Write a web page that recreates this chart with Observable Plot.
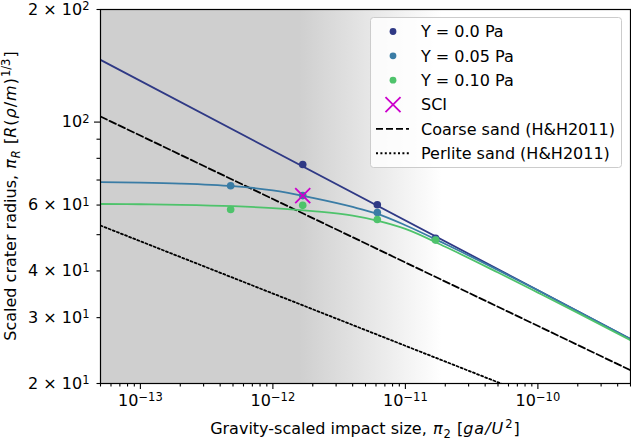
<!DOCTYPE html>
<html><head><meta charset="utf-8">
<script src="https://cdn.jsdelivr.net/npm/d3@7"></script>
<script src="https://cdn.jsdelivr.net/npm/@observablehq/plot@0.6"></script>
<style>
html,body{margin:0;padding:0;background:#fff;}
#chart{position:relative;width:631px;height:440px;}
</style></head><body><div id="chart"></div>
<script>
// ---------- data ----------
const xDomain = [5e-14, 5e-10];
const yDomain = [20, 200];
const seriesNames = ["Y = 0.0 Pa", "Y = 0.05 Pa", "Y = 0.10 Pa"];
const seriesColors = ["#2f3985", "#3a7ca5", "#4ec36b"];
const sciName = "SCI";
const sciColor = "#cc00cc";
const refNames = ["Coarse sand (H&H2011)", "Perlite sand (H&H2011)"];

// measured points
const y0PointsX = [1.68e-12, 6.14e-12, 1.69e-11];
const y0PointsY = [77.0, 60.1, 48.9];
const y005PointsX = [4.8e-13, 1.68e-12, 6.14e-12, 1.69e-11];
const y005PointsY = [67.6, 63.6, 57.3, 48.5];
const y010PointsX = [4.8e-13, 1.68e-12, 6.14e-12, 1.69e-11];
const y010PointsY = [58.4, 59.9, 54.9, 48.4];
const sciX = [1.68e-12];
const sciY = [63.6];

// model curves
const y0CurveX = [5e-14, 5e-10];
const y0CurveY = [146.7, 26.3];
const curveX = [5e-14, 1e-13, 2e-13, 5e-13, 1e-12, 2e-12, 4e-12, 6e-12, 1e-11, 2e-11, 5e-11, 1e-10, 2e-10, 5e-10];
const y005CurveY = [69.1, 68.9, 68.5, 67.4, 65.7, 62.7, 59.3, 57.0, 53.0, 47.2, 40.2, 35.5, 31.2, 26.3];
const y010CurveY = [60.4, 60.3, 60.1, 59.6, 58.9, 57.8, 56.2, 54.6, 51.8, 46.4, 39.6, 35.0, 30.9, 26.1];
const coarseX = [5e-14, 5e-10];
const coarseY = [103.5, 21.7];
const perliteX = [5e-14, 5e-10];
const perliteY = [52.9, 14.6];

// shaded region (grey fading to white)
const bgStart = 1.6e-12;
const bgEnd = 1.9e-11;

// ticks
const xTickValues = [1e-13, 1e-12, 1e-11, 1e-10];
const xTickLabels = ["10^\u221213", "10^\u221212", "10^\u221211", "10^\u221210"];
const yTickValues = [20, 30, 40, 60, 100, 200];
const yTickLabels = ["2 \u00d7 10^1", "3 \u00d7 10^1", "4 \u00d7 10^1", "6 \u00d7 10^1", "10^2", "2 \u00d7 10^2"];

// ---------- chart ----------
const W = 631, H = 440, mL = 100, mR = 1, mT = 9, mB = 57;
const isPow10 = v => Math.abs(Math.log10(v) - Math.round(Math.log10(v))) < 1e-9;
const xAll = d3.scaleLog().domain(xDomain).ticks();
const xMinor = xAll.filter(v => !isPow10(v));
const xMajor = xAll.filter(v => isPow10(v));
const yAll = d3.scaleLog().domain(yDomain).ticks();
const yMinor = yAll.filter(v => !isPow10(v));
const yMajor = yAll.filter(v => isPow10(v));

const pts = (xs, ys) => xs.map((x, i) => ({x, y: ys[i]}));
const blank = () => "";

const plot = Plot.plot({
  width: W, height: H,
  marginLeft: mL, marginRight: mR, marginTop: mT, marginBottom: mB,
  x: {type: "log", domain: xDomain},
  y: {type: "log", domain: yDomain},
  style: {fontFamily: "DejaVu Sans", fontSize: "16px", color: "black", background: "white", overflow: "visible"},
  marks: [
    Plot.rect([0], {x1: () => xDomain[0], x2: () => xDomain[1], y1: () => yDomain[0], y2: () => yDomain[1], fill: "url(#bgfade)"}),
    Plot.line(pts(coarseX, coarseY), {x: "x", y: "y", stroke: "black", strokeWidth: 1.8, strokeDasharray: "7 3", clip: true}),
    Plot.line(pts(perliteX, perliteY), {x: "x", y: "y", stroke: "black", strokeWidth: 1.8, strokeDasharray: "2 2.4", clip: true}),
    Plot.line(pts(y0CurveX, y0CurveY), {x: "x", y: "y", stroke: seriesColors[0], strokeWidth: 1.8, clip: true}),
    Plot.line(pts(curveX, y005CurveY), {x: "x", y: "y", stroke: seriesColors[1], strokeWidth: 1.8, curve: "monotone-x", clip: true}),
    Plot.line(pts(curveX, y010CurveY), {x: "x", y: "y", stroke: seriesColors[2], strokeWidth: 1.8, curve: "monotone-x", clip: true}),
    Plot.dot(pts(y0PointsX, y0PointsY), {x: "x", y: "y", r: 3.8, fill: seriesColors[0]}),
    Plot.dot(pts(y005PointsX, y005PointsY), {x: "x", y: "y", r: 3.8, fill: seriesColors[1]}),
    Plot.dot(pts(y010PointsX, y010PointsY), {x: "x", y: "y", r: 3.8, fill: seriesColors[2]}),
    Plot.dot(pts(sciX, sciY), {x: "x", y: "y", r: 6.9, symbol: "times", stroke: sciColor, strokeWidth: 1.8}),
    // axes
    Plot.axisX(xMinor, {tickSize: 3.5, tickFormat: blank, label: null, strokeWidth: 1.1}),
    Plot.axisX(xMajor, {tickSize: 6, tickFormat: blank, label: null, strokeWidth: 1.1}),
    Plot.axisX(xTickValues, {tickSize: 0, tickPadding: 11, label: null,
      tickFormat: d => xTickLabels[xTickValues.indexOf(d)]}),
    Plot.axisY(yMinor, {tickSize: 3.5, tickFormat: blank, label: null, strokeWidth: 1.1}),
    Plot.axisY(yMajor, {tickSize: 6, tickFormat: blank, label: null, strokeWidth: 1.1}),
    Plot.axisY(yTickValues, {tickSize: 0, tickPadding: 11, label: null,
      tickFormat: d => yTickLabels[yTickValues.indexOf(d)]}),
    Plot.frame({stroke: "black", strokeWidth: 1.2})
  ]
});

document.getElementById("chart").appendChild(plot);
const svg = d3.select(plot);
const ns = "http://www.w3.org/2000/svg";
const xs = plot.scale("x");

// gradient defs (positions from the x scale)
const defs = svg.insert("defs", ":first-child");
const grad = defs.append("linearGradient").attr("id", "bgfade").attr("gradientUnits", "userSpaceOnUse")
  .attr("x1", xs.apply(bgStart)).attr("x2", xs.apply(bgEnd)).attr("y1", 0).attr("y2", 0);
grad.append("stop").attr("offset", 0).attr("stop-color", "#cfcfcf");
grad.append("stop").attr("offset", 1).attr("stop-color", "#ffffff");

// superscripts in tick labels
plot.querySelectorAll("text").forEach(t => {
  const s = t.textContent;
  if (!s.includes("^")) return;
  const [base, sup] = s.split("^");
  t.textContent = base;
  const ts = document.createElementNS(ns, "tspan");
  ts.setAttribute("dy", "-4.5");
  ts.setAttribute("font-size", "11.5");
  ts.textContent = sup;
  t.appendChild(ts);
});

// axis labels
const addParts = (sel, parts) => parts.forEach(p => {
  const ts = sel.append("tspan").text(p.t);
  if (p.i) ts.attr("font-style", "italic");
  if (p.fs) ts.attr("font-size", p.fs);
  if (p.dy) ts.attr("dy", p.dy);
  if (p.dx) ts.attr("dx", p.dx);
});
const xl = svg.append("text").attr("x", mL + (W - mL - mR) / 2).attr("y", 434)
  .attr("text-anchor", "middle").attr("font-size", 16).attr("fill", "black");
addParts(xl, [
  {t: "Gravity-scaled impact size, "}, {t: "\u03c0", i: 1, dx: 1}, {t: "2", fs: 11.5, dy: 4, dx: 1},
  {t: " [", dy: -4, dx: 1}, {t: "g", i: 1}, {t: "a", i: 1, dx: 1}, {t: "/", i: 1, dx: 1}, {t: "U", i: 1, dx: 1},
  {t: "2", fs: 11.5, dy: -6, dx: 2}, {t: "]", dy: 6, dx: 1}
]);
const yl = svg.append("text").attr("transform", `translate(15.5,${mT + (H - mT - mB) / 2}) rotate(-90)`)
  .attr("text-anchor", "middle").attr("font-size", 16).attr("fill", "black");
addParts(yl, [
  {t: "Scaled crater radius, "}, {t: "\u03c0", i: 1, dx: 1}, {t: "R", i: 1, fs: 11.5, dy: 4, dx: 1},
  {t: " [", dy: -4, dx: 1}, {t: "R", i: 1}, {t: "(", dx: 1}, {t: "\u03c1", i: 1, dx: 1}, {t: "/", dx: 1}, {t: "m", i: 1, dx: 1}, {t: ")", dx: 1},
  {t: "1/3", fs: 11.5, dy: -6, dx: 1}, {t: "]", dy: 6, dx: 1}
]);

// legend
const lg = svg.append("g").attr("font-size", 16).attr("fill", "black").attr("text-anchor", "start");
lg.append("rect").attr("x", 370.5).attr("y", 17.5).attr("width", 251).attr("height", 150).attr("rx", 3)
  .attr("fill", "white").attr("fill-opacity", 0.8).attr("stroke", "#cccccc").attr("stroke-width", 1);
const rowBase = i => 37.3 + 24.35 * i;
const mx = 393, tx = 421;
seriesNames.forEach((name, i) => {
  lg.append("circle").attr("cx", mx).attr("cy", rowBase(i) - 5.8).attr("r", 3.4).attr("fill", seriesColors[i]);
  lg.append("text").attr("x", tx).attr("y", rowBase(i)).attr("text-anchor", "start").text(name);
});
lg.append("path").attr("d", d3.symbol(d3.symbolTimes, Math.PI * 6.9 * 6.9)())
  .attr("transform", `translate(${mx},${rowBase(3) - 5.8})`).attr("stroke", sciColor).attr("stroke-width", 1.8).attr("fill", "none");
lg.append("text").attr("x", tx).attr("y", rowBase(3)).attr("text-anchor", "start").text(sciName);
const dashes = ["7 3", "2 2.4"];
refNames.forEach((name, j) => {
  const i = 4 + j;
  lg.append("line").attr("x1", 376).attr("x2", 409).attr("y1", rowBase(i) - 5.8).attr("y2", rowBase(i) - 5.8)
    .attr("stroke", "black").attr("stroke-width", 1.8).attr("stroke-dasharray", dashes[j]);
  lg.append("text").attr("x", tx).attr("y", rowBase(i)).attr("text-anchor", "start").text(name);
});
</script></body></html>
